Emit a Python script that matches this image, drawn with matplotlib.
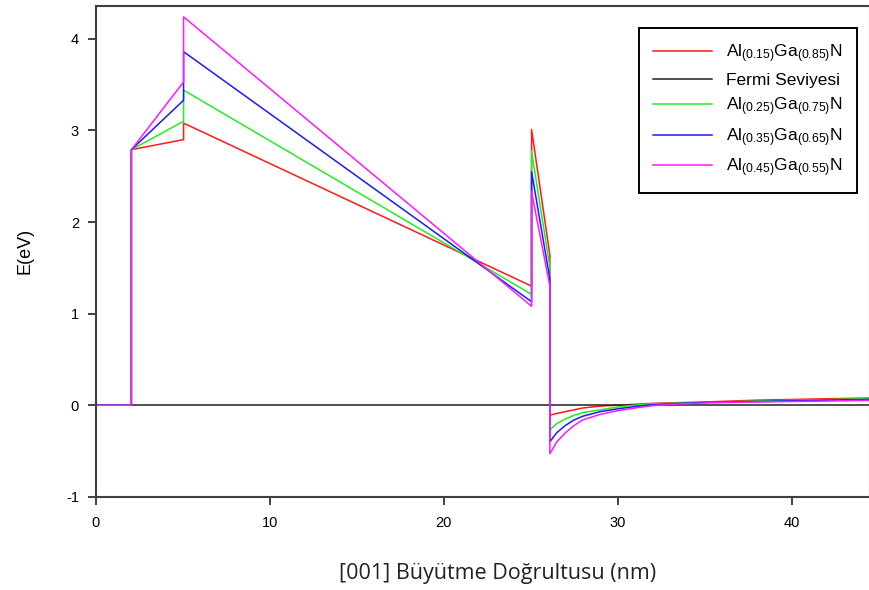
import matplotlib.pyplot as plt

plt.rcParams['font.family'] = ['Liberation Sans', 'DejaVu Sans']
plt.rcParams['mathtext.fontset'] = 'custom'
plt.rcParams['mathtext.rm'] = 'Liberation Sans'
plt.rcParams['mathtext.it'] = 'Liberation Sans'
plt.rcParams['axes.unicode_minus'] = False

# --- veri ---
x_al15 = [0, 2.05, 2.05, 5.05, 5.05, 25.05, 25.05, 26.1, 26.1, 26.5, 27, 27.5, 28, 29, 30, 31, 32, 35, 38, 42, 45]
e_al15 = [0, 0, 2.79, 2.90, 3.08, 1.30, 3.01, 1.64, -0.11, -0.09, -0.07, -0.05, -0.03, -0.01, 0.0, 0.01, 0.02, 0.035, 0.055, 0.07, 0.08]

x_al25 = [0, 2.05, 2.05, 5.05, 5.05, 25.05, 25.05, 26.1, 26.1, 26.5, 27, 27.5, 28, 29, 30, 31, 32, 35, 38, 42, 45]
e_al25 = [0, 0, 2.79, 3.10, 3.44, 1.21, 2.77, 1.51, -0.27, -0.20, -0.15, -0.11, -0.08, -0.05, -0.02, 0.0, 0.015, 0.03, 0.045, 0.06, 0.075]

x_al35 = [0, 2.05, 2.05, 5.05, 5.05, 25.05, 25.05, 26.1, 26.1, 26.5, 27, 27.5, 28, 29, 30, 31, 32, 33, 35, 38, 42, 45]
e_al35 = [0, 0, 2.79, 3.33, 3.86, 1.13, 2.55, 1.38, -0.40, -0.30, -0.22, -0.16, -0.12, -0.07, -0.04, -0.015, 0.005, 0.015, 0.03, 0.04, 0.055, 0.065]

x_al45 = [0, 2.05, 2.05, 5.05, 5.05, 25.05, 25.05, 26.1, 26.1, 26.5, 27, 27.5, 28, 29, 30, 31, 32, 33, 35, 38, 42, 45]
e_al45 = [0, 0, 2.79, 3.53, 4.24, 1.08, 2.33, 1.30, -0.53, -0.40, -0.30, -0.22, -0.16, -0.10, -0.06, -0.03, -0.005, 0.01, 0.025, 0.035, 0.045, 0.055]

x_fermi = [0, 45]
e_fermi = [0, 0]

etiketler = ['Al$_{(0.15)}$Ga$_{(0.85)}$N', 'Fermi Seviyesi', 'Al$_{(0.25)}$Ga$_{(0.75)}$N',
             'Al$_{(0.35)}$Ga$_{(0.65)}$N', 'Al$_{(0.45)}$Ga$_{(0.55)}$N']
# ----------------------

fig = plt.figure(figsize=(8.7, 5.9), dpi=100)
ax = fig.add_axes([0.110, 0.158, 0.890, 0.832])

ax.plot(x_al15, e_al15, color='#ff1a1a', lw=1.1, label=etiketler[0])
ax.plot(x_fermi, e_fermi, color='#202020', lw=1.1, label=etiketler[1])
ax.plot(x_al25, e_al25, color='#22ee22', lw=1.1, label=etiketler[2])
ax.plot(x_al35, e_al35, color='#1a1aff', lw=1.1, label=etiketler[3])
ax.plot(x_al45, e_al45, color='#ff1aff', lw=1.1, label=etiketler[4])

ax.set_xlim(0, 44.5)
ax.set_ylim(-1, 4.36)
ax.set_xticks([0, 10, 20, 30, 40])
ax.set_yticks([-1, 0, 1, 2, 3, 4])
ax.tick_params(axis='both', labelsize=10.5, width=1.3, length=6, color='#333333')
ax.tick_params(axis='x', pad=8)
ax.tick_params(axis='y', pad=6)

for s in ax.spines.values():
    s.set_linewidth(1.5)
    s.set_color('#404040')

ax.set_ylabel('E(eV)', fontsize=13)
ax.yaxis.set_label_coords(-0.08, 0.5)
ax.set_xlabel('[001] Büyütme Doğrultusu (nm)', fontsize=15.5, color='#222222',
              family=['Open Sans', 'DejaVu Sans'])
ax.xaxis.set_label_coords(0.519, -0.135)

leg = ax.legend(loc='upper right', bbox_to_anchor=(0.994, 0.972), fontsize=12.5,
                fancybox=False, framealpha=1, edgecolor='black', handlelength=3.4,
                borderpad=0.8, labelspacing=0.45, handletextpad=0.8)
leg.get_frame().set_linewidth(1.4)

fig.savefig('out.png', dpi=100)
